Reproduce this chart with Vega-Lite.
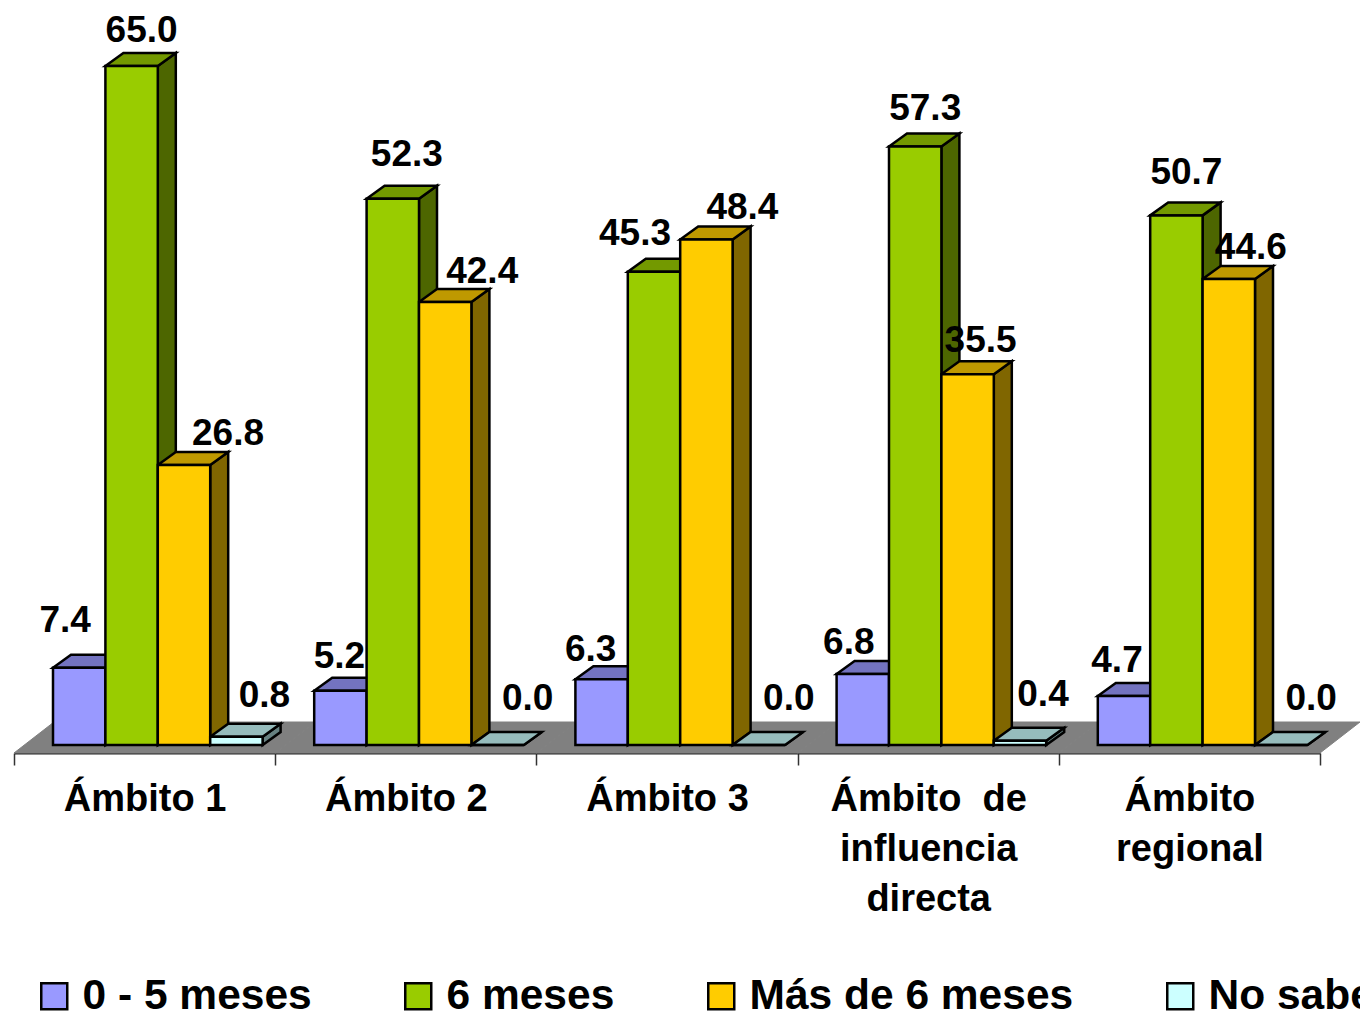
{
"$schema":"https://vega.github.io/schema/vega-lite/v6.json",
"width":1360,"height":753,
"padding":{"left":0,"top":0,"right":0,"bottom":262},
"autosize":{"type":"none"},
"background":"white",
"config":{"view":{"stroke":null},"font":"Liberation Sans"},
"data":{"values":[
{"ambito":"Ámbito 1","serie":"0 - 5 meses","valor":7.4},
{"ambito":"Ámbito 1","serie":"6 meses","valor":65.0},
{"ambito":"Ámbito 1","serie":"Más de 6 meses","valor":26.8},
{"ambito":"Ámbito 1","serie":"No sabe","valor":0.8},
{"ambito":"Ámbito 2","serie":"0 - 5 meses","valor":5.2},
{"ambito":"Ámbito 2","serie":"6 meses","valor":52.3},
{"ambito":"Ámbito 2","serie":"Más de 6 meses","valor":42.4},
{"ambito":"Ámbito 2","serie":"No sabe","valor":0.0},
{"ambito":"Ámbito 3","serie":"0 - 5 meses","valor":6.3},
{"ambito":"Ámbito 3","serie":"6 meses","valor":45.3},
{"ambito":"Ámbito 3","serie":"Más de 6 meses","valor":48.4},
{"ambito":"Ámbito 3","serie":"No sabe","valor":0.0},
{"ambito":"Ámbito de influencia directa","serie":"0 - 5 meses","valor":6.8},
{"ambito":"Ámbito de influencia directa","serie":"6 meses","valor":57.3},
{"ambito":"Ámbito de influencia directa","serie":"Más de 6 meses","valor":35.5},
{"ambito":"Ámbito de influencia directa","serie":"No sabe","valor":0.4},
{"ambito":"Ámbito regional","serie":"0 - 5 meses","valor":4.7},
{"ambito":"Ámbito regional","serie":"6 meses","valor":50.7},
{"ambito":"Ámbito regional","serie":"Más de 6 meses","valor":44.6},
{"ambito":"Ámbito regional","serie":"No sabe","valor":0.0}
]},
"encoding":{
"x":{"field":"ambito","type":"nominal","sort":null,"title":null,
 "scale":{"range":[14,1320],"paddingInner":0,"paddingOuter":0},
 "axis":{"tickBand":"extent","tickSize":12,"tickColor":"#333333","tickWidth":1.5,"domainColor":"#222222","domainWidth":2,"labelAngle":0,"labelFont":"Liberation Sans","labelFontWeight":"bold","labelFontSize":38,"labelColor":"black","labelPadding":15,"labelLineHeight":50,"labelOverlap":false,"labelLimit":400,"labelBound":false,"labelFlush":false,"grid":false,
 "labelExpr":"datum.label=='Ámbito de influencia directa'?['Ámbito\u00a0 de','influencia','directa']:datum.label=='Ámbito regional'?['Ámbito','regional']:datum.label"}},
"xOffset":{"field":"serie","type":"nominal","sort":["0 - 5 meses","6 meses","Más de 6 meses","No sabe"],"scale":{"range":[39,248.6],"paddingInner":0,"paddingOuter":0}},
"y":{"field":"valor","type":"quantitative","axis":null,"scale":{"domain":[0,65],"range":[745,66],"nice":false,"zero":true}}
},
"layer":[
{"transform":[{"filter":"datum.serie=='6 meses'"}],
 "mark":{"type":"point","filled":true,"opacity":1,"size":4,"fill":"#808080","stroke":"#808080","strokeWidth":1,
 "shape":"M0,8L261.2,8L301.2,-23L40,-23Z"},
 "encoding":{"xOffset":{"value":0},"y":{"datum":0,"type":"quantitative"}}},
{"mark":{"type":"point","filled":true,"opacity":1,"size":4,"stroke":"black","strokeWidth":2.5,
 "shape":{"expr":"'M26.2,0l18,-13v'+(datum.valor*10.446)+'l-18,13z'"}},
 "encoding":{"fill":{"field":"serie","type":"nominal","legend":null,"scale":{"domain":["0 - 5 meses","6 meses","Más de 6 meses","No sabe"],"range":["#4d4d80","#4d6600","#806600","#668080"]}}}},
{"mark":{"type":"point","filled":true,"opacity":1,"size":4,"stroke":"black","strokeWidth":2.5,
 "shape":"M-26.2,0l18,-13h52.4l-18,13z"},
 "encoding":{"fill":{"field":"serie","type":"nominal","legend":null,"scale":{"domain":["0 - 5 meses","6 meses","Más de 6 meses","No sabe"],"range":["#7373c0","#739900","#bf9900","#96bcbc"]}}}},
{"mark":{"type":"bar","stroke":"black","strokeWidth":2.5},
 "encoding":{"y2":{"datum":0},"size":{"value":52.4},
 "fill":{"field":"serie","type":"nominal","title":null,"scale":{"domain":["0 - 5 meses","6 meses","Más de 6 meses","No sabe"],"range":["#9999ff","#99cc00","#ffcc00","#ccffff"]},
 "legend":{"orient":"none","legendX":33,"legendY":975,"direction":"horizontal","columns":4,"columnPadding":85,"gridAlign":"none","symbolType":"square","symbolSize":676,"symbolStrokeColor":"black","symbolStrokeWidth":2.5,"symbolOpacity":1,"labelFont":"Liberation Sans","labelFontWeight":"bold","labelFontSize":42.5,"labelColor":"black","labelOffset":7,"labelLimit":500}}}},
{"mark":{"type":"text","font":"Liberation Sans","fontWeight":"bold","fontSize":37,"color":"black","baseline":"middle","align":"center",
 "dx":{"expr":"{'7.4':-14,'5.2':-1,'6.3':-11,'6.8':-14,'4.7':-7,'65':10,'52.3':14,'45.3':-19,'57.3':10,'50.7':10,'26.8':44,'42.4':37,'48.4':36,'35.5':13,'44.6':22,'0.8':28,'0':30,'0.4':23}[datum.valor]"},
 "dy":{"expr":"{'7.4':-47,'5.2':-34,'6.3':-29,'6.8':-31,'4.7':-35,'65':-35,'52.3':-44,'45.3':-38,'57.3':-37,'50.7':-42,'26.8':-31,'42.4':-30,'48.4':-31,'35.5':-33,'44.6':-31,'0.8':-41,'0':-46,'0.4':-46}[datum.valor]"}},
 "encoding":{"text":{"field":"valor","type":"quantitative","format":".1f"}}}
],
"resolve":{"scale":{"fill":"independent"}}
}
